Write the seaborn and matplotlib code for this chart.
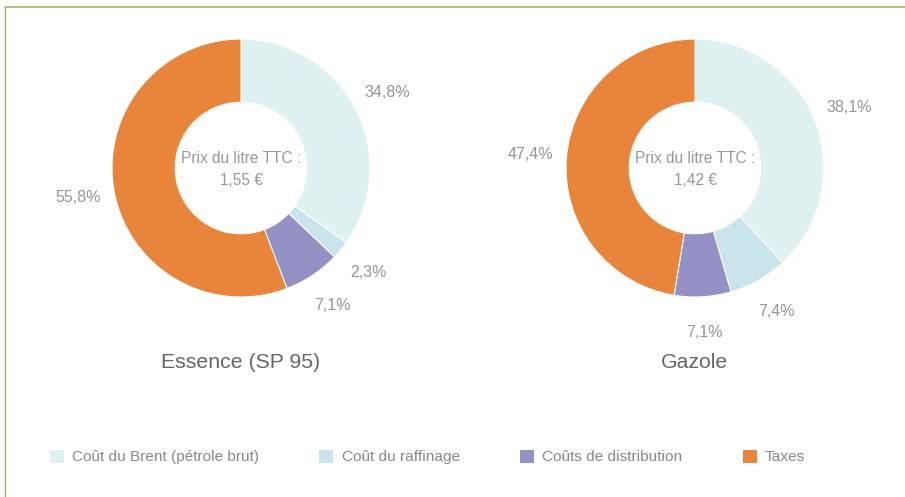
import matplotlib
matplotlib.use("Agg")
import matplotlib.pyplot as plt
from matplotlib.patches import Patch
from matplotlib.lines import Line2D
import seaborn as sns

# Price breakdown per litre of fuel (%)
components = ["Coût du Brent (pétrole brut)", "Coût du raffinage",
              "Coûts de distribution", "Taxes"]
essence_share = [34.8, 2.3, 7.1, 55.8]
gazole_share = [38.1, 7.4, 7.1, 47.4]
fuels = ["Essence (SP 95)", "Gazole"]
prices = ["1,55 €", "1,42 €"]

palette = ["#DFF1F1", "#C9E4EB", "#9491C4", "#E8853A"]

sns.set_theme(style="white")
plt.rcParams["font.family"] = ["Liberation Sans", "DejaVu Sans"]

W, H = 905, 497
fig = plt.figure(figsize=(W / 100, H / 100), dpi=100)
fig.patch.set_facecolor("white")

R = 129
centers = [(241, 168), (695, 168)]
shares = [essence_share, gazole_share]

for (cx, cy), vals, fuel, price in zip(centers, shares, fuels, prices):
    ax = fig.add_axes([(cx - R) / W, (H - cy - R) / H, 2 * R / W, 2 * R / H])
    labels = [f"{v:.1f}%".replace(".", ",") for v in vals]
    wedges, texts = ax.pie(
        vals, labels=labels, colors=palette, startangle=90, counterclock=False,
        radius=1.0, labeldistance=1.28,
        wedgeprops=dict(width=0.49, linewidth=0.8, edgecolor="white"),
        textprops=dict(color="#959595", fontsize=11.5),
    )
    for t in texts:
        t.set_horizontalalignment("center")
    ax.set_xlim(-1, 1)
    ax.set_ylim(-1, 1)
    ax.set_aspect("equal")
    ax.axis("off")
    ax.text(0, -0.01, f"Prix du litre TTC :\n{price}", ha="center",
            va="center", fontsize=11.2, color="#999999", linespacing=1.6)
    ax.text(0, -1.51, fuel, ha="center", va="center", fontsize=15.3,
            color="#666666")

# Legend along the bottom
handles = [Patch(facecolor=c, edgecolor="none") for c in palette]
fig.legend(handles, components, loc="center left",
           bbox_to_anchor=(50 / W, 1 - 457 / H), ncol=4, frameon=False,
           fontsize=11.1, labelcolor="#888888", handlelength=0.9,
           handleheight=0.95, handletextpad=0.55, columnspacing=3.9,
           borderpad=0, borderaxespad=0)

# Thin green frame along the top and left edges
frame_color = "#9DBB61"
fig.add_artist(Line2D([5 / W, 1], [1 - 7 / H, 1 - 7 / H], color=frame_color,
                      linewidth=1.2, transform=fig.transFigure))
fig.add_artist(Line2D([5 / W, 5 / W], [0, 1 - 7 / H], color=frame_color,
                      linewidth=1.0, transform=fig.transFigure))

fig.savefig("out.png", dpi=100, facecolor="white")
